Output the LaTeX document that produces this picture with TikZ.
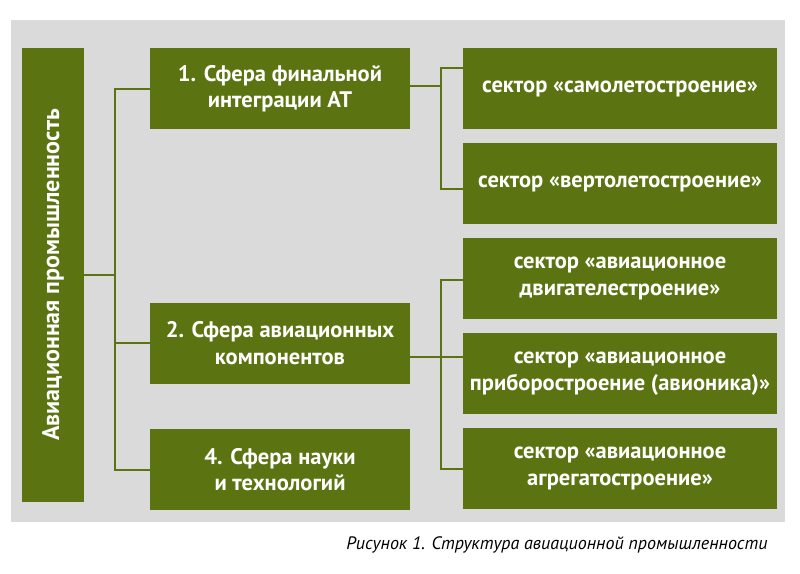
\documentclass[tikz,border=0pt]{standalone}
\usepackage{fontspec}
\setmainfont{PT Sans}
\usepackage{tikz}
\usetikzlibrary{positioning}

\definecolor{olive}{RGB}{91,116,17}
\definecolor{panel}{RGB}{218,218,218}

\tikzset{
  box/.style={fill=olive, text=white, font=\fontsize{22.5}{26.5}\selectfont\bfseries,
    align=center, inner sep=0pt},
  sphere/.style={box, minimum width=260pt, minimum height=81pt},
  sector/.style={box, minimum width=314pt, minimum height=81pt},
  link/.style={draw=olive, line width=2pt}
}

\begin{document}
\begin{tikzpicture}[x=1pt,y=-1pt,node distance=95pt,on grid]
\useasboundingbox (0,0) rectangle (800,573);
\fill[panel] (11,20) rectangle (785,522);

\node[box, minimum width=62pt, minimum height=454pt] (ind) at (53,275) {};
\node[box, rotate=90, font=\fontsize{24}{28}\selectfont\bfseries] (indtext) at (ind.center)
  {Авиационная промышленность};

\node[sphere] (sph1) at (280,88.5) {1. Сфера финальной\\интеграции АТ};
\node[sphere] (sph2) at (280,343) {2. Сфера авиационных\\компонентов};
\node[sphere] (sph4) at (280,469.5) {4. Сфера науки\\и технологий};

\node[sector] (sec1) at (620,88.5) {сектор «самолетостроение»};
\node[sector] (sec2) [below=of sec1] {сектор «вертолетостроение»};
\node[sector] (sec3) [below=of sec2] {сектор «авиационное\\двигателестроение»};
\node[sector] (sec4) [below=of sec3] {сектор «авиационное\\приборостроение (авионика)»};
\node[sector] (sec5) [below=of sec4] {сектор «авиационное\\агрегатостроение»};

\coordinate (j0) at (115,275);
\coordinate (j1) at (441,86);
\coordinate (j2) at (441,357);

% industry -> spheres
\draw[link] (ind.east) -- (j0);
\draw[link] (sph1.west) -| (j0) |- (sph4.west);
\draw[link] (sph2.west) -- (sph2.west -| j0);

% spheres -> sectors
\draw[link] (sph1.east |- j1) -- (j1);
\draw[link] ([yshift=21pt]sec1.west) -| (j1) |- ([yshift=-5pt]sec2.west);
\draw[link] (sph2.east |- j2) -- (sec4.west |- j2);
\draw[link] ([yshift=-1.5pt]sec3.west) -| (j2) |- (sec5.west);

\node[anchor=east, font=\fontsize{18}{22}\selectfont\itshape] (caption) at (771,545)
  {Рисунок 1. Структура авиационной промышленности};
\end{tikzpicture}
\end{document}
